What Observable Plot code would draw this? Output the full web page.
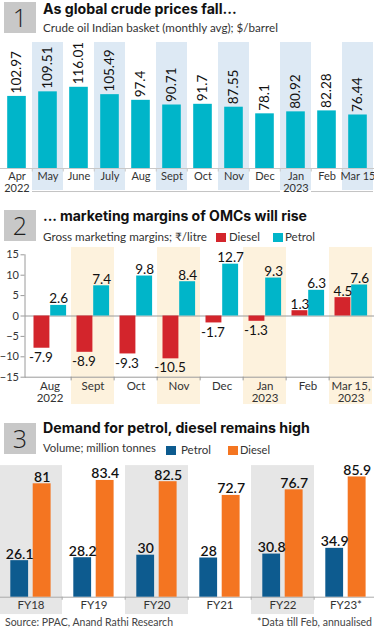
<!DOCTYPE html>
<html>
<head>
<meta charset="utf-8">
<script src="https://cdn.jsdelivr.net/npm/d3@7"></script>
<script src="https://cdn.jsdelivr.net/npm/@observablehq/plot@0.6"></script>
<style>
  html, body { margin: 0; padding: 0; background: #fff; }
  body { width: 374px; height: 630px; position: relative; overflow: hidden; font-family: Lato, "Open Sans", sans-serif; color: #222; }
  .abs { position: absolute; }
  .num { left: 4px; width: 32px; height: 31px; background: #c8c8c8; color: #1e1e1e; font: 300 25px "Open Sans", sans-serif; text-align: center; line-height: 31px; }
  .title { left: 43px; font-family: Inter, Lato, sans-serif; font-weight: 700; color: #111; white-space: nowrap; }
  .sub { left: 43px; color: #333; white-space: nowrap; }
  .sw { position: absolute; width: 10px; height: 9px; }
  .lt { color: #333; white-space: nowrap; }
  .chart { left: 0; }
  .foot { color: #444; white-space: nowrap; }
</style>
</head>
<body>
<div class="abs num" style="top:2px">1</div>
<div class="abs title fit" data-w="194" data-b="14.5">As global crude prices fall...</div>
<div class="abs sub fit" data-w="235" data-b="32.3">Crude oil Indian basket (monthly avg); $/barrel</div>
<div class="abs chart" id="c1" style="top:40px"></div>

<div class="abs num" style="top:210px">2</div>
<div class="abs title fit" data-w="264" data-b="221.7">... marketing margins of OMCs will rise</div>
<div class="abs sub fit" data-w="164" data-b="241.5">Gross marketing margins; ₹/litre</div>
<div class="abs sw" style="left:216px;top:232.5px;background:#d3252c"></div>
<div class="abs lt fit" style="left:229px" data-w="31" data-b="241.5">Diesel</div>
<div class="abs sw" style="left:273px;top:232.5px;background:#00b5c9"></div>
<div class="abs lt fit" style="left:285px" data-w="30" data-b="241.5">Petrol</div>
<div class="abs chart" id="c2" style="top:245px"></div>

<div class="abs num" style="top:423px">3</div>
<div class="abs title fit" data-w="267" data-b="434">Demand for petrol, diesel remains high</div>
<div class="abs sub fit" data-w="113" data-b="451.7">Volume; million tonnes</div>
<div class="abs sw" style="left:166px;top:446px;background:#0d5b8f"></div>
<div class="abs lt fit" style="left:181px" data-w="30" data-b="454">Petrol</div>
<div class="abs sw" style="left:228px;top:446px;background:#f47521"></div>
<div class="abs lt fit" style="left:240px" data-w="30" data-b="454">Diesel</div>
<div class="abs chart" id="c3" style="top:460px"></div>

<div class="abs foot fit" style="left:5px" data-w="168" data-b="626.7">Source: PPAC, Anand Rathi Research</div>
<div class="abs foot fit" style="right:2px" data-w="115" data-b="626.7">*Data till Feb, annualised</div>

<script>
// ---------- Data ----------
// Panel 1: crude oil Indian basket, $/barrel
const months1 = ["Apr", "May", "June", "July", "Aug", "Sept", "Oct", "Nov", "Dec", "Jan", "Feb", "Mar 15"];
const crude = [102.97, 109.51, 116.01, 105.49, 97.4, 90.71, 91.7, 87.55, 78.1, 80.92, 82.28, 76.44];
const shaded1 = ["May", "July", "Sept", "Nov", "Jan", "Mar 15"];
const tickLabels1 = {"Apr": "Apr\n2022", "Jan": "Jan\n2023"};

// Panel 2: gross marketing margins, Rs/litre
const months2 = ["Aug", "Sept", "Oct", "Nov", "Dec", "Jan", "Feb", "Mar 15"];
const dieselMargin = [-7.9, -8.9, -9.3, -10.5, -1.7, -1.3, 1.3, 4.5];
const petrolMargin = [2.6, 7.4, 9.8, 8.4, 12.7, 9.3, 6.3, 7.6];
const shaded2 = ["Sept", "Nov", "Jan", "Mar 15"];
const tickLabels2 = {"Aug": "Aug\n2022", "Jan": "Jan\n2023", "Mar 15": "Mar 15,\n2023"};
const yTicks2 = [15, 10, 5, 0, -5, -10, -15];

// Panel 3: demand, million tonnes
const years = ["FY18", "FY19", "FY20", "FY21", "FY22", "FY23"];
const petrolVol = [26.1, 28.2, 30, 28, 30.8, 34.9];
const dieselVol = [81, 83.4, 82.5, 72.7, 76.7, 85.9];
const shaded3 = ["FY18", "FY20", "FY22"];
const tickLabels3 = {"FY23": "FY23*"};

// ---------- Text fitting (HTML titles) ----------
document.querySelectorAll(".fit").forEach(el => {
  el.style.fontSize = "20px";
  el.style.lineHeight = "1";
  const w = el.getBoundingClientRect().width;
  const f = 20 * (+el.dataset.w) / w;
  el.style.fontSize = f.toFixed(2) + "px";
  el.style.top = Math.max(0, +el.dataset.b - 0.887 * f).toFixed(2) + "px";
});

// ---------- Colours ----------
const CYAN = "#00b5c9", RED = "#d3252c", BLUE = "#0d5b8f", ORANGE = "#f47521";
const font = {fontFamily: "Lato, 'Open Sans', sans-serif", fontSize: "11px", color: "#333", background: "transparent"};

// ---------- Panel 1 ----------
const rows1 = months1.map((m, i) => ({m, v: crude[i]}));
const years1 = [{y: -32.9, x1: "May", x2: "Dec"}, {y: -32.9, x1: "Feb", x2: "Mar 15"}];
const step1 = 378 / months1.length;
const c1 = Plot.plot({
  width: 374, height: 155,
  marginTop: 44, marginBottom: 27, marginLeft: 0, marginRight: 0,
  style: font,
  x: {domain: months1, range: [-2.25, 375.75], padding: 0, axis: null},
  y: {domain: [0, 120], range: [128, 44], axis: null},
  marks: [
    Plot.barY(shaded1, {x: d => d, y1: () => -31.5, y2: () => 180, fill: "#dde9f4"}),
    Plot.ruleY([0], {stroke: "#c8c8c8"}),
    Plot.ruleX(months1.slice(1), {x: d => d, y1: () => 0, y2: () => -5, dx: -step1 / 2, stroke: "#c8c8c8"}),
    Plot.ruleY(years1, {y: "y", x1: "x1", x2: "x2", stroke: "#c4c4c4"}),
    Plot.barY(rows1, {x: "m", y: "v", fill: CYAN, insetLeft: 6.2, insetRight: 6.2}),
    Plot.text(rows1, {x: "m", y: "v", text: d => String(d.v), rotate: -90, textAnchor: "start", dy: -3, fontSize: 13.5, fill: "#111"}),
    Plot.axisX({label: null, tickSize: 0, tickPadding: 3, tickFormat: d => tickLabels1[d] ?? d, fontSize: 11, fill: "#333", lineHeight: 1.1})
  ]
});
document.getElementById("c1").append(c1);

// ---------- Panel 2 ----------
const rows2 = months2.map((m, i) => ({m, diesel: dieselMargin[i], petrol: petrolMargin[i]}));
const step2 = 350 / months2.length;
const c2 = Plot.plot({
  width: 374, height: 162,
  marginTop: 9.3, marginBottom: 30.3, marginLeft: 24.5, marginRight: 0,
  style: font,
  x: {domain: months2, range: [24.5, 374.5], padding: 0, axis: null},
  y: {domain: [-15, 15], range: [131.7, 9.3], axis: null},
  marks: [
    Plot.barY(shaded2, {x: d => d, y1: () => -21.7, y2: () => 16.8, fill: "#fdf2dd"}),
    Plot.ruleY([0, -15], {stroke: "#9a9a9a"}),
    Plot.ruleX(months2.slice(1), {x: d => d, y1: () => -15, y2: () => -15.9, dx: -step2 / 2, stroke: "#9a9a9a"}),
    Plot.frame({anchor: "left", stroke: "#9a9a9a"}),
    Plot.axisY({label: null, ticks: yTicks2, tickSize: 4, tickPadding: 2, fontSize: 11, fill: "#333", stroke: "#9a9a9a"}),
    Plot.barY(rows2, {x: "m", y: "diesel", fill: RED, insetLeft: 5.5, insetRight: 21.6}),
    Plot.barY(rows2, {x: "m", y: "petrol", fill: CYAN, insetLeft: 22.2, insetRight: 4.9}),
    Plot.text(rows2, {x: "m", y: "petrol", text: d => String(d.petrol), dx: 8.6, dy: -2, lineAnchor: "bottom", fontSize: 13.5, fill: "#111"}),
    Plot.text(rows2.filter(d => d.diesel < 0), {x: "m", y: "diesel", text: d => String(d.diesel), dx: -9, dy: 4, lineAnchor: "top", fontSize: 13.5, fill: "#111"}),
    Plot.text(rows2.filter(d => d.diesel >= 0), {x: "m", y: "diesel", text: d => String(d.diesel), dx: -8, dy: -2, lineAnchor: "bottom", fontSize: 13.5, fill: "#111"}),
    Plot.axisX({label: null, tickSize: 0, tickPadding: 4, tickFormat: d => tickLabels2[d] ?? d, fontSize: 11.5, fill: "#333", lineHeight: 1.08})
  ]
});
document.getElementById("c2").append(c2);

// ---------- Panel 3 ----------
const rows3 = years.map((y, i) => ({y, petrol: petrolVol[i], diesel: dieselVol[i]}));
const step3 = 382.2 / years.length;
const c3 = Plot.plot({
  width: 374, height: 155,
  marginTop: 10.7, marginBottom: 18.3, marginLeft: 0, marginRight: 0,
  style: font,
  x: {domain: years, range: [-3, 379.2], padding: 0, axis: null},
  y: {domain: [0, 90], range: [136.7, 10.7], axis: null},
  marks: [
    Plot.barY(shaded3, {x: d => d, y1: () => -12.4, y2: () => 94, fill: "#e6e6e6"}),
    Plot.ruleY([0], {stroke: "#aaaaaa"}),
    Plot.ruleX(years.slice(1), {x: d => d, y1: () => 0, y2: () => -2.2, dx: -step3 / 2, stroke: "#aaaaaa"}),
    Plot.barY(rows3, {x: "y", y: "petrol", fill: BLUE, insetLeft: 11.3, insetRight: 33.9}),
    Plot.barY(rows3, {x: "y", y: "diesel", fill: ORANGE, insetLeft: 33.7, insetRight: 11.4}),
    Plot.text(rows3, {x: "y", y: "petrol", text: d => String(d.petrol), dx: -11.3, dy: -2, lineAnchor: "bottom", fontSize: 14, fontWeight: 600, fill: "#111"}),
    Plot.text(rows3, {x: "y", y: "diesel", text: d => String(d.diesel), dx: 11.2, dy: -2, lineAnchor: "bottom", fontSize: 14, fontWeight: 600, fill: "#111"}),
    Plot.axisX({label: null, tickSize: 0, tickPadding: 4, tickFormat: d => tickLabels3[d] ?? d, fontSize: 11.5, fill: "#333"})
  ]
});
document.getElementById("c3").append(c3);
</script>
</body>
</html>
